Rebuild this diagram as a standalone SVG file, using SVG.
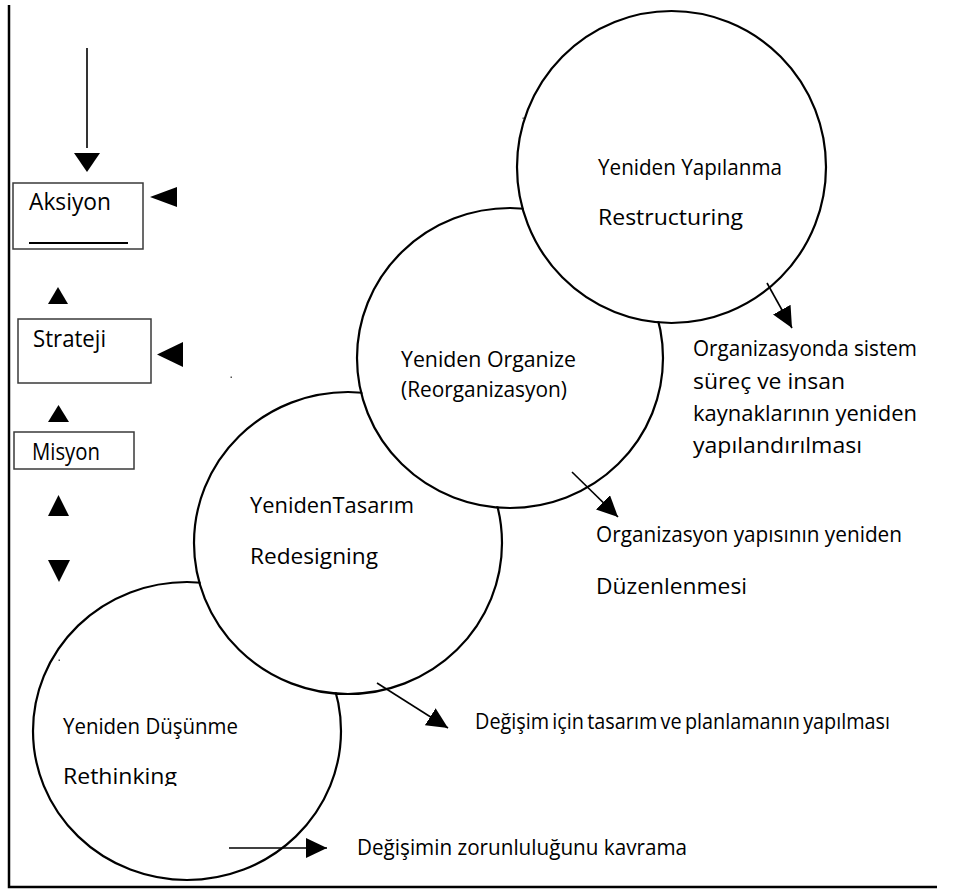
<svg xmlns="http://www.w3.org/2000/svg" width="954" height="891" viewBox="0 0 954 891">
<style>
  .t{font-family:"Open Sans","Liberation Sans",sans-serif;fill:#000}
  .c{font-size:21px}
  .l{font-size:21.5px}
  .b{font-size:23px}
  .circ{fill:none;stroke:#000;stroke-width:2.2}
  .box{fill:#fff;stroke:#3a3a3a;stroke-width:1.5}
  .frame{fill:none;stroke:#000;stroke-width:2.5}
  .con{stroke:#000;stroke-width:1.6;fill:none}
  .tri{fill:#000}
</style>
<defs>
  <marker id="ah" markerUnits="userSpaceOnUse" viewBox="0 0 21 20" refX="21" refY="10" markerWidth="21" markerHeight="20" orient="auto">
    <path d="M0,0 L21,10 L0,20 Z" fill="#000"/>
  </marker>
  <mask id="mD"><rect width="954" height="891" fill="#fff"/><ellipse cx="348" cy="543" rx="153" ry="150" fill="#000"/></mask>
  <mask id="mC"><rect width="954" height="891" fill="#fff"/><ellipse cx="510" cy="358" rx="152" ry="149" fill="#000"/></mask>
  <mask id="mB"><rect width="954" height="891" fill="#fff"/><ellipse cx="671.5" cy="168" rx="153.5" ry="154" fill="#000"/></mask>
  <clipPath id="clipR"><rect x="0" y="0" width="954" height="786"/></clipPath>
</defs>

<g id="frame">
  <path class="frame" d="M9,5 V887 H937"/>
</g>

<g id="left-column">
  <g id="aksiyon">
    <rect class="box" x="13" y="183" width="130" height="66"/>
    <text class="t b" x="29" y="210" textLength="82" lengthAdjust="spacingAndGlyphs">Aksiyon</text>
    <line x1="29" y1="243" x2="128" y2="243" stroke="#000" stroke-width="2"/>
  </g>
  <g id="strateji">
    <rect class="box" x="18" y="319" width="133" height="64"/>
    <text class="t b" x="33" y="347" textLength="73" lengthAdjust="spacingAndGlyphs">Strateji</text>
  </g>
  <g id="misyon">
    <rect class="box" x="14" y="432" width="120" height="37"/>
    <text class="t b" x="32" y="460" textLength="68" lengthAdjust="spacingAndGlyphs">Misyon</text>
  </g>
  <g id="column-arrows">
    <line class="con" x1="87" y1="48" x2="87" y2="148"/>
    <polygon class="tri" points="74,153 100,153 87,172"/>
    <polygon class="tri" points="177,187 177,207 150,197"/>
    <polygon class="tri" points="48,304 68,304 58,287"/>
    <polygon class="tri" points="183,342 183,367 157,354.5"/>
    <polygon class="tri" points="48,422 69,422 58.5,405"/>
    <polygon class="tri" points="48,516 69,516 58.5,495"/>
    <polygon class="tri" points="48,560 70,560 59,582"/>
  </g>
</g>

<g id="rethinking">
  <ellipse class="circ" cx="187" cy="731" rx="154" ry="149" mask="url(#mD)"/>
  <text class="t c" x="63" y="734" textLength="175" lengthAdjust="spacingAndGlyphs">Yeniden Düşünme</text>
  <text class="t c" x="63" y="784" textLength="114" lengthAdjust="spacingAndGlyphs" clip-path="url(#clipR)">Rethinking</text>
</g>

<g id="redesigning">
  <ellipse class="circ" cx="348" cy="543" rx="154" ry="151" mask="url(#mC)"/>
  <text class="t c" x="250" y="513" textLength="164" lengthAdjust="spacingAndGlyphs">YenidenTasarım</text>
  <text class="t c" x="250" y="564" textLength="128" lengthAdjust="spacingAndGlyphs">Redesigning</text>
</g>

<g id="reorganize">
  <ellipse class="circ" cx="510" cy="358" rx="153" ry="150" mask="url(#mB)"/>
  <text class="t c" x="401" y="367" textLength="175" lengthAdjust="spacingAndGlyphs">Yeniden Organize</text>
  <text class="t c" x="401" y="397" textLength="166" lengthAdjust="spacingAndGlyphs">(Reorganizasyon)</text>
</g>

<g id="restructuring">
  <ellipse class="circ" cx="671.5" cy="167" rx="154.5" ry="156"/>
  <text class="t c" x="598" y="175" textLength="184" lengthAdjust="spacingAndGlyphs">Yeniden Yapılanma</text>
  <text class="t c" x="598" y="225" textLength="145" lengthAdjust="spacingAndGlyphs">Restructuring</text>
</g>

<g id="label-restructuring">
  <text class="t l" x="693" y="356" textLength="224" lengthAdjust="spacingAndGlyphs">Organizasyonda sistem</text>
  <text class="t l" x="693" y="389" textLength="152" lengthAdjust="spacingAndGlyphs">süreç ve insan</text>
  <text class="t l" x="693" y="421" textLength="224" lengthAdjust="spacingAndGlyphs">kaynaklarının yeniden</text>
  <text class="t l" x="693" y="453" textLength="169" lengthAdjust="spacingAndGlyphs">yapılandırılması</text>
</g>

<g id="label-reorganize">
  <text class="t l" x="596" y="542" textLength="306" lengthAdjust="spacingAndGlyphs">Organizasyon yapısının yeniden</text>
  <text class="t l" x="596" y="594" textLength="151" lengthAdjust="spacingAndGlyphs">Düzenlenmesi</text>
</g>

<g id="label-redesigning">
  <text class="t l" x="475" y="729" textLength="415" lengthAdjust="spacingAndGlyphs" word-spacing="-2">Değişim için tasarım ve planlamanın yapılması</text>
</g>

<g id="label-rethinking">
  <text class="t l" x="357" y="855" textLength="330" lengthAdjust="spacingAndGlyphs">Değişimin zorunluluğunu kavrama</text>
</g>

<g id="connectors">
  <line class="con" x1="767" y1="283" x2="792" y2="328" marker-end="url(#ah)"/>
  <line class="con" x1="572" y1="472" x2="618" y2="517" marker-end="url(#ah)"/>
  <line class="con" x1="377" y1="683" x2="448" y2="728" marker-end="url(#ah)"/>
  <line class="con" x1="229" y1="848" x2="327" y2="848" marker-end="url(#ah)"/>
</g>

<g id="specks" fill="#555">
  <rect x="522.5" y="117.5" width="1.5" height="1.5"/>
  <rect x="230.5" y="376.5" width="1.5" height="1.5"/>
  <rect x="58.5" y="659.5" width="1.5" height="1.5"/>
</g>
</svg>
